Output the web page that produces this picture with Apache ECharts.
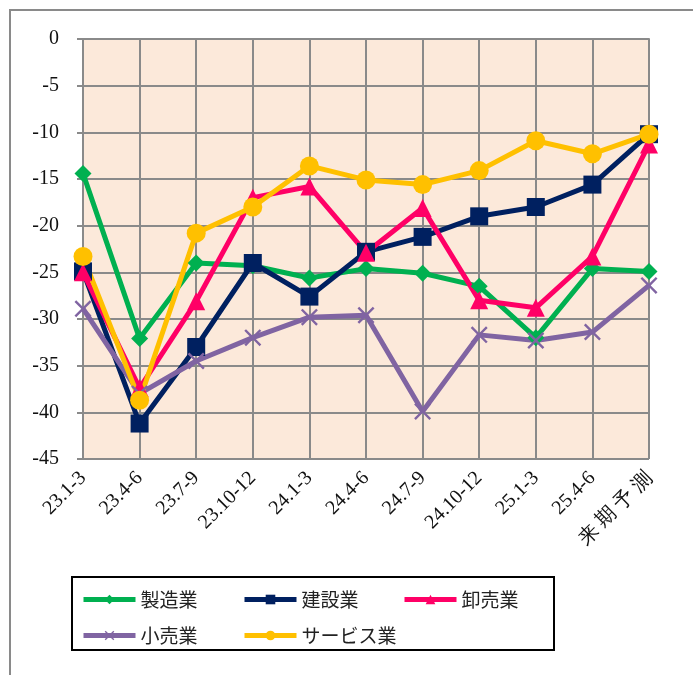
<!DOCTYPE html>
<html>
<head>
<meta charset="utf-8">
<script src="https://cdn.jsdelivr.net/npm/echarts@6/dist/echarts.min.js"></script>
<style>
  html, body { margin: 0; padding: 0; background: #fff; }
  #chart { width: 693px; height: 675px; }
</style>
</head>
<body>
<div id="chart"></div>
<script>
// 期間
var categories = ['23.1-3', '23.4-6', '23.7-9', '23.10-12', '24.1-3', '24.4-6', '24.7-9', '24.10-12', '25.1-3', '25.4-6', '来 期 予 測']
var yTicks = [0, -5, -10, -15, -20, -25, -30, -35, -40, -45]

var seizo = [-14.4, -32.1, -24.0, -24.3, -25.6, -24.6, -25.1, -26.5, -32.0, -24.6, -24.9]
var kensetsu = [-24.9, -41.2, -33.0, -24.0, -27.6, -22.8, -21.2, -19.0, -18.0, -15.6, -10.2]
var oroshi = [-25.0, -37.4, -28.1, -17.0, -15.8, -22.9, -18.1, -28.0, -28.8, -23.3, -11.3]
var kouri = [-28.9, -38.0, -34.5, -32.0, -29.8, -29.6, -39.9, -31.7, -32.3, -31.4, -26.4]
var service = [-23.3, -38.7, -20.8, -18.0, -13.6, -15.1, -15.6, -14.1, -10.9, -12.3, -10.2]

var crossPath = 'path://M0,1 L1,0 L5,4 L9,0 L10,1 L6,5 L10,9 L9,10 L5,6 L1,10 L0,9 L4,5 Z'

function makeSeries(name, data, color, symbol, size) {
  return {
    name: name,
    type: 'line',
    data: data,
    symbol: symbol,
    symbolSize: size,
    showAllSymbol: true,
    lineStyle: { color: color, width: 5 },
    itemStyle: { color: color },
    emphasis: { disabled: true },
    z: 3
  }
}

var legendFont = { fontFamily: 'Noto Sans CJK JP', fontSize: 19, color: '#222' }
function makeLegend(name, left, top) {
  return {
    data: [name],
    left: left,
    top: top,
    itemWidth: 52,
    itemHeight: 12,
    itemGap: 0,
    lineStyle: { width: 5 },
    textStyle: legendFont,
    selectedMode: false
  }
}

var chart = echarts.init(document.getElementById('chart'))
chart.setOption({
  animation: false,
  backgroundColor: '#fff',
  grid: {
    left: 83,
    right: 44,
    top: 39,
    bottom: 216,
    show: true,
    backgroundColor: '#fce9da',
    borderWidth: 0
  },
  legend: [
    makeLegend('製造業', 76, 585),
    makeLegend('建設業', 237, 585),
    makeLegend('卸売業', 397, 585),
    makeLegend('小売業', 76, 621),
    makeLegend('サービス業', 237, 621)
  ],
  graphic: [
    {
      type: 'rect',
      shape: { x: 10, y: 10, width: 720, height: 720 },
      style: { fill: 'none', stroke: '#8a8a8a', lineWidth: 2 },
      silent: true
    },
    {
      type: 'rect',
      shape: { x: 72, y: 577, width: 482, height: 73 },
      style: { fill: 'none', stroke: '#000', lineWidth: 2 },
      silent: true
    }
  ],
  xAxis: {
    type: 'category',
    data: categories,
    boundaryGap: false,
    axisLine: { show: true, lineStyle: { color: '#8a8a8a', width: 2 } },
    axisTick: { show: false },
    splitLine: { show: true, lineStyle: { color: '#8a8a8a', width: 2 } },
    axisLabel: {
      interval: 0,
      rotate: 45,
      margin: 16,
      fontFamily: 'Liberation Serif',
      fontSize: 20,
      color: '#111'
    }
  },
  yAxis: {
    type: 'value',
    min: -45,
    max: 0,
    interval: 5,
    axisLine: { show: true, lineStyle: { color: '#8a8a8a', width: 2 } },
    axisTick: { show: true, inside: false, length: 6, lineStyle: { color: '#8a8a8a', width: 2 } },
    splitLine: { show: true, lineStyle: { color: '#8a8a8a', width: 2 } },
    axisLabel: {
      margin: 24,
      fontFamily: 'Liberation Serif',
      fontSize: 20,
      color: '#111',
      formatter: function (v) { return yTicks.indexOf(v) >= 0 ? String(v) : '' }
    }
  },
  series: [
    makeSeries('製造業', seizo, '#00b050', 'diamond', 17),
    makeSeries('建設業', kensetsu, '#002060', 'rect', 18),
    makeSeries('卸売業', oroshi, '#ff0066', 'triangle', 18),
    makeSeries('小売業', kouri, '#8064a2', crossPath, 17),
    makeSeries('サービス業', service, '#ffc000', 'circle', 19)
  ]
})
</script>
</body>
</html>
